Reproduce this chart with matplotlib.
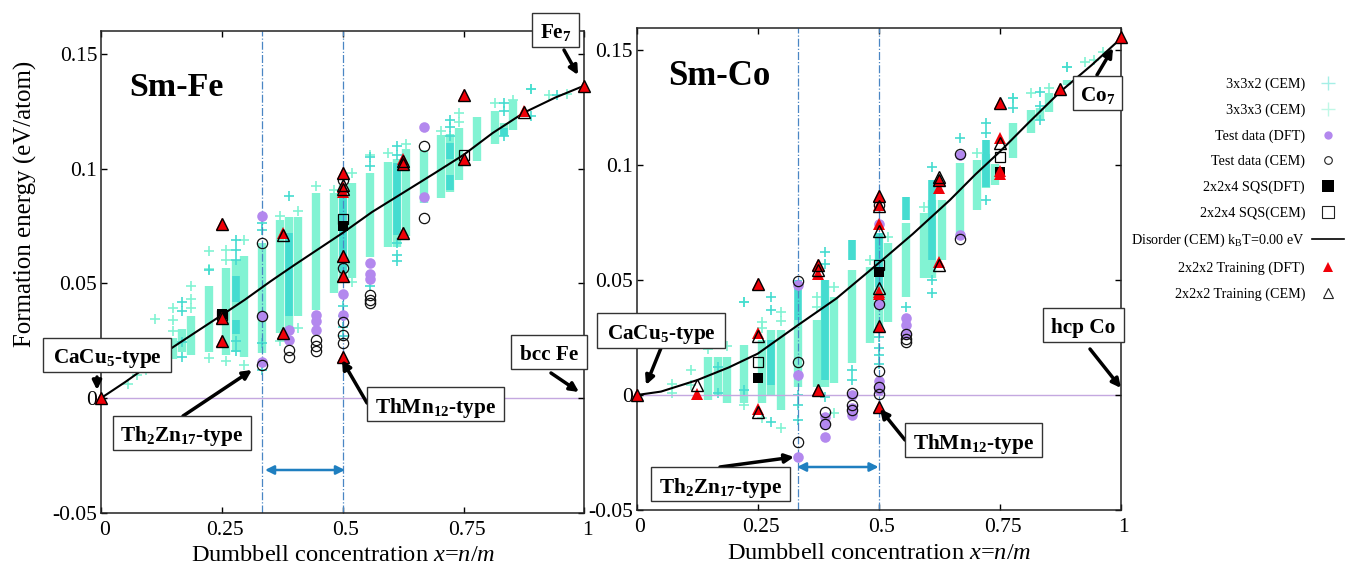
import matplotlib

matplotlib.use("Agg")
import matplotlib.pyplot as plt
from matplotlib.patches import FancyArrowPatch, Rectangle
from matplotlib.transforms import ScaledTranslation

W, H = 1357, 567

plt.rcParams["font.family"] = ["Liberation Serif", "DejaVu Serif"]
plt.rcParams["mathtext.fontset"] = "custom"
plt.rcParams["mathtext.rm"] = "Liberation Serif"
plt.rcParams["mathtext.it"] = "Liberation Serif:italic"
plt.rcParams["mathtext.bf"] = "Liberation Serif:bold"
plt.rcParams["axes.unicode_minus"] = False

x_ticks = [0, 0.25, 0.5, 0.75, 1]
x_tick_labels = ["0", "0.25", "0.5", "0.75", "1"]
y_ticks = [-0.05, 0, 0.05, 0.1, 0.15]
y_tick_labels = ["-0.05", "0", "0.05", "0.1", "0.15"]

# Sm-Fe: dense ranges of the CEM structures
fe_light_x = [0.148, 0.167, 0.185, 0.222, 0.258, 0.278, 0.296, 0.333, 0.37, 0.389, 0.407, 0.444, 0.481, 0.5, 0.519, 0.556, 0.593, 0.611, 0.63, 0.667, 0.704, 0.722, 0.741, 0.778, 0.815, 0.833, 0.852]
fe_light_lo = [0.017, 0.02, 0.0188, 0.0202, 0.0188, 0.02, 0.018, 0.0196, 0.0283, 0.03, 0.0355, 0.0384, 0.0458, 0.05, 0.0524, 0.0616, 0.066, 0.066, 0.0704, 0.085, 0.0873, 0.09, 0.0952, 0.1032, 0.1105, 0.114, 0.117]
fe_light_hi = [0.026, 0.03, 0.0355, 0.0486, 0.0568, 0.06, 0.0617, 0.0677, 0.0777, 0.079, 0.079, 0.0894, 0.0894, 0.093, 0.0938, 0.098, 0.103, 0.104, 0.1085, 0.1083, 0.1148, 0.115, 0.1179, 0.1223, 0.125, 0.12, 0.13]
fe_dark_x = [0.278, 0.278, 0.389, 0.5, 0.611, 0.722, 0.722, 0.833]
fe_dark_lo = [0.042, 0.028, 0.0355, 0.0545, 0.0712, 0.0908, 0.104, 0.1141]
fe_dark_hi = [0.053, 0.034, 0.072, 0.0908, 0.1025, 0.097, 0.1113, 0.1175]
fe_plus_light_x = [0.056, 0.074, 0.093, 0.111, 0.13, 0.148, 0.148, 0.148, 0.185, 0.185, 0.185, 0.222, 0.222, 0.222, 0.258, 0.258, 0.258, 0.296, 0.296, 0.37, 0.37, 0.407, 0.407, 0.444, 0.481, 0.519, 0.519, 0.556, 0.593, 0.63, 0.704, 0.741, 0.741, 0.815, 0.852, 0.889, 0.926, 0.963]
fe_plus_light_y = [0.006, 0.01, 0.012, 0.0345, 0.02, 0.039, 0.034, 0.029, 0.0486, 0.043, 0.039, 0.064, 0.056, 0.0175, 0.0646, 0.06, 0.016, 0.069, 0.0145, 0.0792, 0.0246, 0.0813, 0.0305, 0.0923, 0.0908, 0.098, 0.0506, 0.106, 0.107, 0.1105, 0.1163, 0.1244, 0.1205, 0.1288, 0.1301, 0.1345, 0.1323, 0.1325]
fe_plus_dark_x = [0.167, 0.167, 0.167, 0.167, 0.222, 0.278, 0.278, 0.278, 0.278, 0.278, 0.333, 0.333, 0.333, 0.333, 0.389, 0.389, 0.5, 0.5, 0.5, 0.5, 0.556, 0.556, 0.556, 0.611, 0.611, 0.611, 0.611, 0.611, 0.722, 0.722, 0.722, 0.833, 0.833, 0.833, 0.889, 0.889, 0.944]
fe_plus_dark_y = [0.042, 0.038, 0.0245, 0.018, 0.0559, 0.0687, 0.0645, 0.06, 0.025, 0.0205, 0.0764, 0.073, 0.024, 0.012, 0.0879, 0.0295, 0.0402, 0.0355, 0.031, 0.027, 0.0489, 0.105, 0.101, 0.11, 0.106, 0.0675, 0.0625, 0.0595, 0.1214, 0.118, 0.114, 0.1288, 0.125, 0.114, 0.1345, 0.123, 0.1319]

fe_test_dft_x = [0.333, 0.333, 0.333, 0.389, 0.389, 0.444, 0.444, 0.444, 0.5, 0.5, 0.556, 0.556, 0.556, 0.667, 0.667]
fe_test_dft_y = [0.0795, 0.0355, 0.0155, 0.0297, 0.0253, 0.0362, 0.0335, 0.0297, 0.0454, 0.0362, 0.059, 0.054, 0.052, 0.118, 0.0875]
fe_test_cem_x = [0.333, 0.333, 0.333, 0.389, 0.389, 0.444, 0.444, 0.444, 0.5, 0.5, 0.5, 0.5, 0.5, 0.556, 0.556, 0.556, 0.667, 0.667]
fe_test_cem_y = [0.0675, 0.0355, 0.0145, 0.0207, 0.018, 0.0253, 0.0225, 0.0205, 0.0952, 0.0567, 0.0329, 0.0275, 0.024, 0.045, 0.0428, 0.0415, 0.11, 0.0785]
fe_sqs_dft_x = [0.25, 0.5]
fe_sqs_dft_y = [0.0365, 0.075]
fe_sqs_cem_x = [0.25, 0.5, 0.75]
fe_sqs_cem_y = [0.036, 0.078, 0.106]
fe_curve_x = [0, 0.05, 0.1, 0.146, 0.2, 0.25, 0.297, 0.35, 0.4, 0.45, 0.5, 0.56, 0.625, 0.69, 0.75, 0.81, 0.875, 0.94, 1]
fe_curve_y = [0, 0.007, 0.0145, 0.0218, 0.0293, 0.0362, 0.0428, 0.0508, 0.058, 0.065, 0.072, 0.081, 0.0895, 0.098, 0.106, 0.1155, 0.1244, 0.131, 0.1362]
fe_train_dft_x = [0, 0.25, 0.25, 0.25, 0.375, 0.375, 0.5, 0.5, 0.5, 0.5, 0.5, 0.5, 0.625, 0.625, 0.625, 0.75, 0.75, 0.875, 1]
fe_train_dft_y = [0, 0.076, 0.035, 0.025, 0.072, 0.0285, 0.098, 0.092, 0.09, 0.062, 0.053, 0.0179, 0.104, 0.102, 0.072, 0.132, 0.104, 0.125, 0.136]
fe_train_cem_x = [0, 0.25, 0.25, 0.25, 0.375, 0.375, 0.5, 0.5, 0.5, 0.5, 0.5, 0.5, 0.625, 0.625, 0.625, 0.75, 0.75, 0.875, 1]
fe_train_cem_y = [0, 0.076, 0.035, 0.025, 0.071, 0.0285, 0.098, 0.093, 0.091, 0.062, 0.053, 0.0179, 0.1035, 0.102, 0.072, 0.132, 0.104, 0.1245, 0.136]

# Sm-Co
co_light_x = [0.148, 0.167, 0.186, 0.222, 0.258, 0.277, 0.297, 0.333, 0.372, 0.389, 0.407, 0.444, 0.481, 0.5, 0.519, 0.556, 0.593, 0.611, 0.63, 0.667, 0.704, 0.722, 0.741, 0.778, 0.815, 0.833, 0.852, 0.889]
co_light_lo = [-0.002, 0.0, -0.0035, -0.0035, -0.0035, 0.0, -0.0065, 0.0036, 0.0036, 0.0036, 0.0052, 0.0139, 0.0226, 0.0285, 0.0319, 0.0427, 0.0509, 0.0509, 0.0587, 0.0688, 0.0804, 0.09, 0.0913, 0.103, 0.1139, 0.1196, 0.1232, 0.1348]
co_light_hi = [0.0167, 0.0167, 0.0167, 0.0217, 0.0239, 0.0283, 0.0283, 0.0326, 0.0326, 0.05, 0.0427, 0.0543, 0.0558, 0.0704, 0.066, 0.0748, 0.079, 0.085, 0.0848, 0.1009, 0.1022, 0.105, 0.1005, 0.1183, 0.1239, 0.125, 0.1313, 0.137]
co_dark_x = [0.277, 0.333, 0.389, 0.444, 0.5, 0.556, 0.611, 0.722]
co_dark_lo = [0.0045, 0.0326, 0.0065, 0.0587, 0.0471, 0.0761, 0.0587, 0.0906]
co_dark_hi = [0.0239, 0.05, 0.05, 0.0674, 0.0704, 0.0862, 0.0935, 0.1109]
co_plus_light_x = [0.0734, 0.0734, 0.111, 0.111, 0.148, 0.186, 0.222, 0.222, 0.258, 0.258, 0.258, 0.297, 0.297, 0.297, 0.372, 0.372, 0.407, 0.407, 0.481, 0.519, 0.593, 0.704, 0.778, 0.815, 0.852, 0.889, 0.926, 0.944, 0.963]
co_plus_light_y = [0.005, 0.001, 0.011, 0.0045, 0.02, 0.0215, -0.0045, 0.0406, 0.0319, 0.029, -0.01, 0.0362, 0.032, -0.0143, 0.0427, 0.0385, -0.0078, 0.0471, 0.0587, 0.0688, 0.0819, 0.1052, 0.1291, 0.1313, 0.1335, 0.1427, 0.1448, 0.1457, 0.1493]
co_plus_dark_x = [0.167, 0.167, 0.222, 0.222, 0.277, 0.277, 0.277, 0.333, 0.333, 0.333, 0.389, 0.389, 0.389, 0.444, 0.444, 0.5, 0.5, 0.5, 0.5, 0.556, 0.611, 0.611, 0.611, 0.667, 0.722, 0.722, 0.722, 0.778, 0.778, 0.833, 0.833, 0.833, 0.889]
co_plus_dark_y = [0.012, 0.001, 0.0406, 0.002, 0.0427, 0.037, -0.0116, -0.0045, -0.0109, 0.0, 0.0623, 0.057, -0.0007, 0.0065, 0.011, 0.0252, 0.0205, 0.0175, 0.0135, 0.0385, 0.0991, 0.0443, 0.05, 0.1117, 0.1183, 0.114, 0.0848, 0.1291, 0.125, 0.1317, 0.1255, 0.1196, 0.1427]

co_test_dft_x = [0.333, 0.333, 0.333, 0.389, 0.389, 0.389, 0.444, 0.444, 0.444, 0.444, 0.5, 0.5, 0.5, 0.5, 0.5, 0.556, 0.556, 0.556, 0.667, 0.667]
co_test_dft_y = [0.048, 0.0085, -0.0268, -0.0181, -0.0125, -0.0095, 0, -0.0055, -0.0065, -0.0085, 0.0745, 0.0395, 0.006, 0.0035, 0.002, 0.0335, 0.0305, 0.0265, 0.1045, 0.0695]
co_test_cem_x = [0.333, 0.333, 0.333, 0.389, 0.389, 0.444, 0.444, 0.444, 0.5, 0.5, 0.5, 0.5, 0.5, 0.556, 0.556, 0.556, 0.667, 0.667]
co_test_cem_y = [0.0495, 0.0145, -0.0205, -0.0075, -0.0125, 0.001, -0.0045, -0.0065, 0.0825, 0.0395, 0.0105, 0.0035, 0.0005, 0.0265, 0.0245, 0.023, 0.105, 0.068]
co_sqs_dft_x = [0.25, 0.5, 0.75]
co_sqs_dft_y = [0.0075, 0.0535, 0.097]
co_sqs_cem_x = [0.25, 0.5, 0.75]
co_sqs_cem_y = [0.0145, 0.0565, 0.1035]
co_curve_x = [0, 0.05, 0.125, 0.19, 0.25, 0.333, 0.4125, 0.5, 0.57, 0.647, 0.7, 0.75, 0.81, 0.875, 0.94, 1]
co_curve_y = [0, 0.0015, 0.0065, 0.012, 0.018, 0.0304, 0.042, 0.0574, 0.07, 0.0848, 0.096, 0.1058, 0.1185, 0.1319, 0.1435, 0.155]
co_train_dft_x = [0, 0.125, 0.25, 0.25, 0.25, 0.375, 0.375, 0.375, 0.5, 0.5, 0.5, 0.5, 0.5, 0.5, 0.5, 0.625, 0.625, 0.625, 0.75, 0.75, 0.75, 0.75, 0.875, 1]
co_train_dft_y = [0, 0.0005, 0.0485, 0.027, -0.006, 0.0565, 0.0525, 0.002, 0.0865, 0.0825, 0.0745, 0.045, 0.044, 0.0295, -0.005, 0.0935, 0.09, 0.058, 0.127, 0.112, 0.0975, 0.096, 0.133, 0.1555]
co_train_cem_x = [0, 0.125, 0.25, 0.25, 0.25, 0.375, 0.375, 0.375, 0.5, 0.5, 0.5, 0.5, 0.5, 0.5, 0.625, 0.625, 0.625, 0.75, 0.75, 0.875, 1]
co_train_cem_y = [0, 0.0045, 0.0485, 0.0255, -0.0075, 0.0565, 0.0545, 0.002, 0.0865, 0.082, 0.0715, 0.0465, 0.03, -0.005, 0.095, 0.0935, 0.0565, 0.127, 0.1095, 0.133, 0.1555]

LIGHT = "#82f3d3"
DARK = "#45dcd0"
PURPLE = "#b388ee"
RED = "#f00008"
BLUE = "#4a86c4"
ARROW_BLUE = "#1f7fc0"


def fx(px):
    return px / W


def fy(py):
    return 1 - py / H


def draw_panel(ax, light, dark, plus_light, plus_dark, test_dft, test_cem, sqs_dft, sqs_cem, curve, train_dft, train_cem):
    ax.vlines(light[0], light[1], light[2], color=LIGHT, lw=6, zorder=1)
    ax.vlines(dark[0], dark[1], dark[2], color=DARK, lw=5.5, zorder=1.2)
    ax.plot(plus_light[0], plus_light[1], "+", color=LIGHT, ms=7, mew=1.2, zorder=1.1, clip_on=False)
    ax.plot(plus_dark[0], plus_dark[1], "+", color=DARK, ms=7, mew=1.2, zorder=1.3, clip_on=False)
    ax.axhline(0, color="#c4a8e0", lw=1, zorder=1.5)
    for v in (1 / 3, 0.5):
        ax.axvline(v, color=BLUE, lw=0.9, ls="-.", zorder=1.6)
    ax.plot(test_dft[0], test_dft[1], "o", color=PURPLE, ms=7.6, mew=0, zorder=2)
    ax.plot(test_cem[0], test_cem[1], "o", mfc="none", mec="#111111", ms=7.4, mew=0.9, zorder=2.1)
    ax.plot(sqs_dft[0], sqs_dft[1], "s", color="black", ms=7.4, mew=0, zorder=2.2)
    ax.plot(sqs_cem[0], sqs_cem[1], "s", mfc="none", mec="black", ms=7.6, mew=0.9, zorder=2.3)
    ax.plot(curve[0], curve[1], "-", color="black", lw=1.5, zorder=2.5)
    ax.plot(train_dft[0], train_dft[1], "^", color=RED, ms=9, mew=0, zorder=3, clip_on=False)
    ax.plot(train_cem[0], train_cem[1], "^", mfc="none", mec="black", ms=9, mew=1, zorder=3.1, clip_on=False)

    ax.set_xlim(0, 1)
    ax.set_xticks(x_ticks)
    ax.set_xticklabels(x_tick_labels)
    ax.set_yticks(y_ticks)
    ax.set_yticklabels(y_tick_labels)
    ax.tick_params(direction="in", top=True, right=True, length=4.5, width=1, labelsize=15.5)
    ax.tick_params(axis="y", pad=3)
    ax.tick_params(axis="x", pad=6)
    # the tick labels sit a little right of their ticks in the original
    for lab in ax.get_xticklabels():
        lab.set_transform(lab.get_transform() + ScaledTranslation(3 / 100, 0, ax.figure.dpi_scale_trans))
    ax.set_xlabel("Dumbbell concentration $\\mathit{x}$=$\\mathit{n/m}$", fontsize=17.6, labelpad=4)
    for s in ax.spines.values():
        s.set_linewidth(1.1)
        s.set_color("#222222")


def box_label(fig, left, top, right, bottom, txt, size=15.3):
    # box edges in image pixels
    fig.add_artist(Rectangle((fx(left), fy(bottom)), (right - left) / W, (bottom - top) / H,
                             transform=fig.transFigure, fc="white", ec="#333333", lw=1, zorder=6))
    fig.text(fx((left + right) / 2), fy((top + bottom) / 2), txt, ha="center", va="center_baseline",
             fontsize=size, fontweight="bold", zorder=7)


def arrow(fig, start, end, color="black", style="-|>", lw=2.5):
    fig.add_artist(FancyArrowPatch(
        (fx(start[0]), fy(start[1])), (fx(end[0]), fy(end[1])),
        transform=fig.transFigure, arrowstyle=style, mutation_scale=13, color=color, lw=lw,
        shrinkA=0, shrinkB=0, zorder=5))


fig = plt.figure(figsize=(W / 100, H / 100), dpi=100)

ax_fe = fig.add_axes([fx(101.4), fy(512.5), fx(584.4 - 101.4), (512.5 - 31) / H])
draw_panel(
    ax_fe,
    (fe_light_x, fe_light_lo, fe_light_hi),
    (fe_dark_x, fe_dark_lo, fe_dark_hi),
    (fe_plus_light_x, fe_plus_light_y),
    (fe_plus_dark_x, fe_plus_dark_y),
    (fe_test_dft_x, fe_test_dft_y),
    (fe_test_cem_x, fe_test_cem_y),
    (fe_sqs_dft_x, fe_sqs_dft_y),
    (fe_sqs_cem_x, fe_sqs_cem_y),
    (fe_curve_x, fe_curve_y),
    (fe_train_dft_x, fe_train_dft_y),
    (fe_train_cem_x, fe_train_cem_y),
)
ax_fe.set_ylim(-0.05, 0.16)
ax_fe.set_ylabel("Formation energy (eV/atom)", fontsize=17.9)
ax_fe.yaxis.set_label_coords(-0.133, 0.642)

ax_co = fig.add_axes([fx(636.8), fy(510), fx(1120.7 - 636.8), (510 - 28.3) / H])
draw_panel(
    ax_co,
    (co_light_x, co_light_lo, co_light_hi),
    (co_dark_x, co_dark_lo, co_dark_hi),
    (co_plus_light_x, co_plus_light_y),
    (co_plus_dark_x, co_plus_dark_y),
    (co_test_dft_x, co_test_dft_y),
    (co_test_cem_x, co_test_cem_y),
    (co_sqs_dft_x, co_sqs_dft_y),
    (co_sqs_cem_x, co_sqs_cem_y),
    (co_curve_x, co_curve_y),
    (co_train_dft_x, co_train_dft_y),
    (co_train_cem_x, co_train_cem_y),
)
ax_co.set_ylim(-0.05, 0.1595)

# panel titles
fig.text(fx(176.5), fy(87), "Sm-Fe", ha="center", va="center", fontsize=24.5, fontweight="bold")
fig.text(fx(719.5), fy(77), "Sm-Co", ha="center", va="center", fontsize=25, fontweight="bold")

# callouts on Sm-Fe
box_label(fig, 532, 13, 579, 47, "$\\mathbf{Fe_{7}}$")
arrow(fig, (564, 50), (578, 75))
box_label(fig, 43, 338, 171, 372, "$\\mathbf{CaCu_{5}}$-type")
arrow(fig, (97, 377), (97, 390))
box_label(fig, 112.5, 416, 251, 450, "$\\mathbf{Th_{2}Zn_{17}}$-type")
arrow(fig, (183, 416), (252, 370))
box_label(fig, 367, 387, 504, 421, "$\\mathbf{ThMn_{12}}$-type")
arrow(fig, (367, 403), (342, 360))
box_label(fig, 511, 335, 587, 369, "bcc Fe")
arrow(fig, (551, 373), (579, 392))
arrow(fig, (265, 470), (345, 470), color=ARROW_BLUE, style="<|-|>", lw=1.8)

# callouts on Sm-Co
box_label(fig, 597, 313, 725, 348, "$\\mathbf{CaCu_{5}}$-type")
arrow(fig, (661, 348), (646, 385))
box_label(fig, 651, 467, 790, 501, "$\\mathbf{Th_{2}Zn_{17}}$-type")
arrow(fig, (720, 467), (794, 457))
box_label(fig, 905, 423, 1042, 457, "$\\mathbf{ThMn_{12}}$-type")
arrow(fig, (905, 440), (880, 409))
box_label(fig, 1042.5, 308, 1124, 342, "hcp Co")
arrow(fig, (1090, 349), (1121, 388))
box_label(fig, 1072.5, 76, 1122, 110, "$\\mathbf{Co_{7}}$")
arrow(fig, (1097, 75), (1113, 48))
arrow(fig, (797, 467), (878.6, 467), color=ARROW_BLUE, style="<|-|>", lw=1.8)

legend_labels = [
    "3x3x2 (CEM)",
    "3x3x3 (CEM)",
    "Test data (DFT)",
    "Test data (CEM)",
    "2x2x4 SQS(DFT)",
    "2x2x4 SQS(CEM)",
    "Disorder (CEM) k$_{\\mathrm{B}}$T=0.00 eV",
    "2x2x2 Training (DFT)",
    "2x2x2 Training (CEM)",
]
legend_handles = [
    plt.Line2D([0], [0], marker="+", color="#a5efe6", ms=10, mew=1, ls="None"),
    plt.Line2D([0], [0], marker="+", color="#c0f8e6", ms=10, mew=1, ls="None"),
    plt.Line2D([0], [0], marker="o", color=PURPLE, ms=6, mew=0, ls="None"),
    plt.Line2D([0], [0], marker="o", mfc="none", mec="#222222", ms=5.5, mew=0.8, ls="None"),
    plt.Line2D([0], [0], marker="s", color="black", ms=8, mew=0, ls="None"),
    plt.Line2D([0], [0], marker="s", mfc="none", mec="#222222", ms=8, mew=0.8, ls="None"),
    plt.Line2D([0], [0], color="black", lw=1.2),
    plt.Line2D([0], [0], marker="^", color=RED, ms=7.5, mew=0, ls="None"),
    plt.Line2D([0], [0], marker="^", mfc="none", mec="#222222", ms=7.5, mew=0.8, ls="None"),
]
fig.legend(
    legend_handles,
    legend_labels,
    loc="upper right",
    bbox_to_anchor=(fx(1344), fy(78)),
    frameon=False,
    markerfirst=False,
    fontsize=10.2,
    labelspacing=0.86,
    handlelength=2.25,
    handletextpad=0.5,
    borderpad=0,
    borderaxespad=0,
)

fig.savefig("out.png", dpi=100)
